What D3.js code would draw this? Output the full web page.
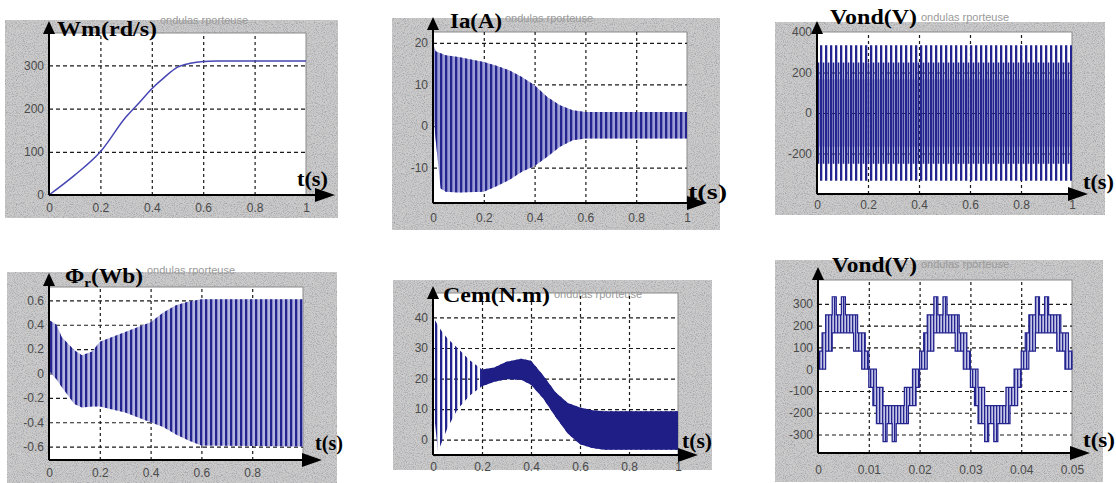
<!DOCTYPE html>
<html>
<head>
<meta charset="utf-8">
<script src="https://cdn.jsdelivr.net/npm/d3@7"></script>
<style>
  body { margin: 0; background: #fff; }
</style>
</head>
<body>
<script>
// Wm(rd/s) vs t
var wmT = [0, 0.1, 0.2, 0.3, 0.35, 0.4, 0.45, 0.5, 0.55, 0.6, 0.65, 1.0];
var wmV = [0, 46, 100, 181, 213, 246, 273, 296, 305, 309, 310, 310];

// Ia(A) envelope of the oscillation
var iaT  = [0, 0.01, 0.03, 0.05, 0.1, 0.2, 0.25, 0.3, 0.35, 0.4, 0.45, 0.5, 0.55, 0.6, 1.0];
var iaHi = [20, 18, 17.5, 17, 16.6, 15.4, 14.5, 13.4, 11.8, 9.8, 7, 5, 3.8, 3.4, 3.4];
var iaLo = [4, -3, -15, -15.8, -16, -15.8, -14.5, -13, -11, -9.6, -7.4, -5, -3.4, -3, -3];

// Phi_r(Wb) envelope
var phiT  = [0, 0.03, 0.05, 0.1, 0.13, 0.17, 0.2, 0.3, 0.4, 0.45, 0.5, 0.55, 0.6, 1.0];
var phiHi = [0.44, 0.4, 0.3, 0.19, 0.15, 0.18, 0.26, 0.34, 0.42, 0.5, 0.56, 0.59, 0.61, 0.61];
var phiLo = [0.02, -0.05, -0.11, -0.25, -0.28, -0.27, -0.27, -0.32, -0.4, -0.44, -0.5, -0.55, -0.59, -0.6];

// Cem(N.m) envelope
var cemT  = [0, 0.02, 0.04, 0.06, 0.1, 0.15, 0.2, 0.25, 0.3, 0.36, 0.4, 0.45, 0.5, 0.55, 0.6, 0.65, 0.7, 1.0];
var cemHi = [40.4, 37.4, 35, 33, 30, 26, 23, 23.6, 25.5, 26.5, 25.8, 21, 15.5, 12, 10.5, 9.6, 9.3, 9.3];
var cemLo = [12, -4, 0, 4, 10, 14.5, 17.5, 19, 19.8, 19.6, 18, 13.5, 7.5, 2, -1.5, -2.7, -3.3, -3.3];

// Vond(V) over 1 s : voltage levels of the pulses
var vtT = [0, 1];
var vtLevels = [335, 250, 167];

// Vond(V) over 0.05 s : staircase of the pulse bands (low / high level)
var vbT = [
  0, .0008, .0015, .0028, .0036, .0046, .0054, .0070, .0078, .0086, .0093,
  .0100, .0108, .0115, .0128, .0136, .0146, .0154, .0170, .0178, .0186, .0193,
  .0200, .0208, .0215, .0228, .0236, .0246, .0254, .0270, .0278, .0286, .0293,
  .0300, .0308, .0315, .0328, .0336, .0346, .0354, .0370, .0378, .0386, .0393,
  .0400, .0408, .0415, .0428, .0436, .0446, .0454, .0470, .0478, .0486, .0493, .0500];
var vbLo = [
  0, 0, 83, 167, 167, 167, 167, 83, 83, 0, 0,
  -83, -167, -250, -333, -250, -333, -250, -250, -167, -167, -83,
  0, 0, 83, 167, 167, 167, 167, 83, 83, 0, 0,
  -83, -167, -250, -333, -250, -333, -250, -250, -167, -167, -83,
  0, 0, 83, 167, 167, 167, 167, 83, 83, 0, 0, 0];
var vbHi = [
  83, 167, 250, 333, 250, 333, 250, 250, 167, 167, 83,
  0, 0, -83, -167, -167, -167, -167, -83, -83, 0, 0,
  83, 167, 250, 333, 250, 333, 250, 250, 167, 167, 83,
  0, 0, -83, -167, -167, -167, -167, -83, -83, 0, 0,
  83, 167, 250, 333, 250, 333, 250, 250, 167, 167, 83, 0];

var blue = "#24248f";

let svg = d3.select("body").append("svg")
    .attr("width", 1116)
    .attr("height", 483);

let defs = svg.append("defs");

// scanner grain on the grey frames
let grain = defs.append("filter").attr("id", "grain")
    .attr("x", 0).attr("y", 0).attr("width", "100%").attr("height", "100%");
grain.append("feTurbulence").attr("type", "fractalNoise").attr("baseFrequency", 0.9)
    .attr("numOctaves", 2).attr("seed", 7).attr("result", "n");
grain.append("feColorMatrix").attr("in", "n").attr("type", "matrix")
    .attr("values", "0 0 0 0 0.35  0 0 0 0 0.35  0 0 0 0 0.38  2.6 0 0 0 -1.15").attr("result", "speck");
grain.append("feComposite").attr("in", "speck").attr("in2", "SourceGraphic")
    .attr("operator", "in").attr("result", "clip");
let merge = grain.append("feMerge");
merge.append("feMergeNode").attr("in", "SourceGraphic");
merge.append("feMergeNode").attr("in", "clip");

function stripes(id, period, width, offset, color) {
    let p = defs.append("pattern").attr("id", id)
        .attr("patternUnits", "userSpaceOnUse")
        .attr("width", period).attr("height", 10);
    p.append("rect").attr("x", offset).attr("y", 0)
        .attr("width", width).attr("height", 10).attr("fill", color);
}
stripes("stripeA", 5, 2.3, 0, blue);
stripes("stripeB", 5, 1.6, 2.7, blue);
stripes("stripeC", 3, 1.3, 0, blue);

let fmt = d => String(d);

function panel(cfg, drawMarks) {
    let g = svg.append("g");
    let [bx0, by0, bx1, by1] = cfg.box;
    let [l, t, r, b] = cfg.plot;

    g.append("rect").attr("x", bx0).attr("y", by0)
        .attr("width", bx1 - bx0).attr("height", by1 - by0).attr("fill", "#cbcbcb")
        .attr("filter", "url(#grain)");

    let x = d3.scaleLinear().domain(cfg.xDomain).range([l, r]);
    let y = d3.scaleLinear().domain(cfg.yDomain).range([b, t]);

    g.append("rect").attr("x", l).attr("y", t).attr("width", r - l).attr("height", b - t)
        .attr("fill", "#fff").attr("stroke", "#8a8a8a");

    // faint text of the original matlab title
    g.append("text")
        .attr("x", cfg.mark[0]).attr("y", cfg.mark[1])
        .attr("font-family", "Liberation Sans, Arial")
        .attr("font-size", 11).attr("fill", "#9a9a9a")
        .text("ondulas rporteuse");

    // grid
    g.append("g").attr("transform", "translate(0," + b + ")")
        .call(d3.axisBottom(x).tickValues(cfg.gridX).tickSize(-(b - t)).tickFormat(""))
        .call(s => s.select(".domain").remove())
        .selectAll("line").attr("stroke", "#1a1a1a").attr("stroke-width", 1.2).attr("stroke-dasharray", "3,3");
    g.append("g").attr("transform", "translate(" + l + ",0)")
        .call(d3.axisLeft(y).tickValues(cfg.gridY).tickSize(-(r - l)).tickFormat(""))
        .call(s => s.select(".domain").remove())
        .selectAll("line").attr("stroke", "#1a1a1a").attr("stroke-width", 1.2).attr("stroke-dasharray", "4,3");

    drawMarks(g, x, y);

    // axes with arrows
    g.append("line").attr("x1", l).attr("y1", b).attr("x2", l).attr("y2", cfg.arrowTop + 8)
        .attr("stroke", "#000").attr("stroke-width", 2);
    g.append("path")
        .attr("d", "M" + (l - 6) + "," + (cfg.arrowTop + 13) + "L" + l + "," + cfg.arrowTop + "L" + (l + 6) + "," + (cfg.arrowTop + 13) + "Z")
        .attr("fill", "#000");
    g.append("line").attr("x1", l).attr("y1", b).attr("x2", cfg.arrowRight - 12).attr("y2", b)
        .attr("stroke", "#000").attr("stroke-width", 2);
    g.append("path")
        .attr("d", "M" + (cfg.arrowRight - 20) + "," + (b - 7) + "L" + cfg.arrowRight + "," + b + "L" + (cfg.arrowRight - 20) + "," + (b + 7) + "Z")
        .attr("fill", "#000");

    // tick labels
    let xa = g.append("g").attr("transform", "translate(0," + b + ")")
        .call(d3.axisBottom(x).tickValues(cfg.xTicks).tickSize(0).tickPadding(cfg.xPad).tickFormat(fmt));
    xa.select(".domain").remove();
    let ya = g.append("g").attr("transform", "translate(" + l + ",0)")
        .call(d3.axisLeft(y).tickValues(cfg.yTicks).tickSize(0).tickPadding(5).tickFormat(fmt));
    ya.select(".domain").remove();
    g.selectAll(".tick text")
        .attr("font-family", "Liberation Sans, Arial").attr("font-size", 12).attr("fill", "#4a4a4a");

    // titles
    let title = g.append("text")
        .attr("x", cfg.title[0]).attr("y", cfg.title[1])
        .attr("font-family", "Liberation Serif, Times New Roman, serif")
        .attr("font-weight", "bold").attr("font-size", 20)
        .attr("textLength", cfg.title[2]).attr("lengthAdjust", "spacingAndGlyphs");
    if (cfg.sub) {
        title.append("tspan").text(cfg.name);
        title.append("tspan").attr("dy", 4).attr("font-size", 13).text(cfg.sub);
        title.append("tspan").attr("dy", -4).text(cfg.rest);
    } else {
        title.text(cfg.name);
    }
    g.append("text")
        .attr("x", cfg.tLbl[0]).attr("y", cfg.tLbl[1])
        .attr("font-family", "Liberation Serif, Times New Roman, serif")
        .attr("font-weight", "bold").attr("font-size", 20)
        .attr("textLength", cfg.tLbl[2]).attr("lengthAdjust", "spacingAndGlyphs")
        .text("t(s)");
}

function band(g, x, y, ts, lo, hi, fill, curve) {
    let data = ts.map((d, i) => ({ t: d, lo: lo[i], hi: hi[i] }));
    let area = d3.area()
        .x(d => x(d.t))
        .y0(d => y(d.lo))
        .y1(d => y(d.hi))
        .curve(curve || d3.curveLinear);
    g.append("path").datum(data).attr("d", area).attr("fill", fill);
    return data;
}

// 1. Wm
panel({
    box: [5, 20, 338, 218], plot: [49, 33, 306, 195],
    xDomain: [0, 1], yDomain: [0, 375],
    xTicks: [0, 0.2, 0.4, 0.6, 0.8, 1], yTicks: [0, 100, 200, 300],
    gridX: [0.2, 0.4, 0.6, 0.8], gridY: [100, 200, 300],
    xPad: 8, arrowTop: 21, arrowRight: 335,
    name: "Wm(rd/s)", title: [57, 36, 100], tLbl: [297, 186, 31], mark: [160, 24]
}, function (g, x, y) {
    let line = d3.line().x((d, i) => x(wmT[i])).y(d => y(d)).curve(d3.curveMonotoneX);
    g.append("path").datum(wmV).attr("d", line)
        .attr("fill", "none").attr("stroke", "#4646b4").attr("stroke-width", 1.5);
});

// 2. Ia
panel({
    box: [392, 18, 720, 230], plot: [433, 32, 687, 203],
    xDomain: [0, 1], yDomain: [-18.5, 22.6],
    xTicks: [0, 0.2, 0.4, 0.6, 0.8, 1], yTicks: [-10, 0, 10, 20],
    gridX: [0.2, 0.4, 0.6, 0.8], gridY: [-10, 0, 10, 20],
    xPad: 10, arrowTop: 17, arrowRight: 707,
    name: "Ia(A)", title: [450, 28, 52], tLbl: [688, 199, 39], mark: [505, 22]
}, function (g, x, y) {
    band(g, x, y, iaT, iaLo, iaHi, "#9c9cd6");
    band(g, x, y, iaT, iaLo, iaHi, "url(#stripeA)");
});

// 3. Vond over 1 s
panel({
    box: [775, 22, 1105, 215], plot: [817, 32, 1072, 194],
    xDomain: [0, 1], yDomain: [-400, 400],
    xTicks: [0, 0.2, 0.4, 0.6, 0.8, 1], yTicks: [-200, 0, 200, 400],
    gridX: [0.2, 0.4, 0.6, 0.8], gridY: [-200, 0, 200],
    xPad: 6, arrowTop: 21, arrowRight: 1088,
    name: "Vond(V)", title: [830, 24, 87], tLbl: [1083, 189, 31], mark: [921, 21]
}, function (g, x, y) {
    vtLevels.forEach(function (lv, k) {
        band(g, x, y, vtT, vtT.map(() => -lv), vtT.map(() => lv),
            k === 0 ? "url(#stripeA)" : "url(#stripeB)");
    });
});

// 4. Phi_r
panel({
    box: [7, 272, 337, 483], plot: [49, 287, 303, 460],
    xDomain: [0, 1], yDomain: [-0.71, 0.71],
    xTicks: [0, 0.2, 0.4, 0.6, 0.8], yTicks: [-0.6, -0.4, -0.2, 0, 0.2, 0.4, 0.6],
    gridX: [0.2, 0.4, 0.6, 0.8], gridY: [-0.6, -0.4, -0.2, 0, 0.2, 0.4, 0.6],
    xPad: 8, arrowTop: 273, arrowRight: 322,
    name: "Φ", sub: "r", rest: "(Wb)", title: [65, 283, 78], tLbl: [315, 450, 28], mark: [147, 274]
}, function (g, x, y) {
    band(g, x, y, phiT, phiLo, phiHi, "#b4b4e0");
    band(g, x, y, phiT, phiLo, phiHi, "url(#stripeA)");
});

// 5. Cem
panel({
    box: [393, 280, 712, 470], plot: [433, 293, 678, 455],
    xDomain: [0, 1], yDomain: [-5, 48],
    xTicks: [0, 0.2, 0.4, 0.6, 0.8, 1], yTicks: [0, 10, 20, 30, 40],
    gridX: [0.2, 0.4, 0.6, 0.8], gridY: [0, 10, 20, 30, 40],
    xPad: 7, arrowTop: 286, arrowRight: 698,
    name: "Cem(N.m)", title: [443, 302, 107], tLbl: [682, 448, 30], mark: [554, 298]
}, function (g, x, y) {
    band(g, x, y, cemT, cemLo, cemHi, "url(#stripeA)");
    let late = cemT.map((d, i) => i).filter(i => cemT[i] >= 0.2);
    band(g, x, y, late.map(i => cemT[i]), late.map(i => cemLo[i]), late.map(i => cemHi[i]), "#1e1e86");
});

// 6. Vond over 0.05 s
panel({
    box: [775, 260, 1103, 482], plot: [818, 280, 1072, 453],
    xDomain: [0, 0.05], yDomain: [-385, 410],
    xTicks: [0, 0.01, 0.02, 0.03, 0.04, 0.05], yTicks: [-300, -200, -100, 0, 100, 200, 300],
    gridX: [0.01, 0.02, 0.03, 0.04], gridY: [-300, -200, -100, 100, 200, 300],
    xPad: 12, arrowTop: 267, arrowRight: 1090,
    name: "Vond(V)", title: [832, 272, 85], tLbl: [1083, 447, 32], mark: [921, 268]
}, function (g, x, y) {
    let data = band(g, x, y, vbT, vbLo, vbHi, "#c4c4e6", d3.curveStepAfter);
    band(g, x, y, vbT, vbLo, vbHi, "url(#stripeC)", d3.curveStepAfter);
    let hiLine = d3.line().x(d => x(d.t)).y(d => y(d.hi)).curve(d3.curveStepAfter);
    let loLine = d3.line().x(d => x(d.t)).y(d => y(d.lo)).curve(d3.curveStepAfter);
    g.append("path").datum(data).attr("d", hiLine)
        .attr("fill", "none").attr("stroke", blue).attr("stroke-width", 1.2);
    g.append("path").datum(data).attr("d", loLine)
        .attr("fill", "none").attr("stroke", blue).attr("stroke-width", 1.2);
});
</script>
</body>
</html>
